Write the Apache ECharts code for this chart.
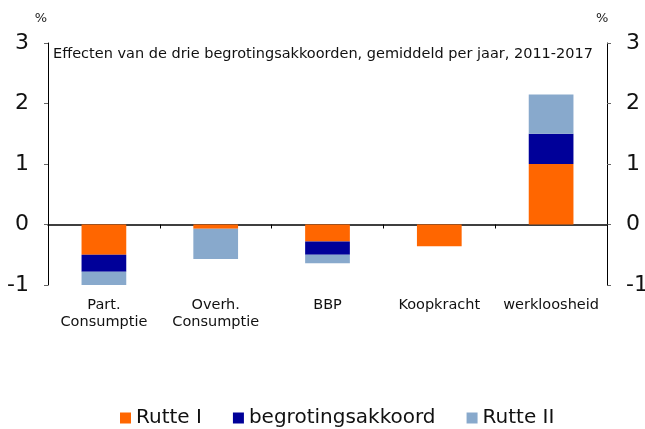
<!DOCTYPE html>
<html lang="nl">
<head>
    <meta charset="UTF-8">
    <title>Effecten begrotingsakkoorden</title>
    <script src="https://cdn.jsdelivr.net/npm/echarts@6/dist/echarts.min.js"></script>
    <style>
        html, body { margin: 0; padding: 0; background: #fff; }
        #chart { width: 645px; height: 429px; }
    </style>
</head>
<body>
    <div id="chart"></div>
    <script>
        // data
        var categories = ['Part.\nConsumptie', 'Overh.\nConsumptie', 'BBP', 'Koopkracht', 'werkloosheid'];
        var rutte1 = [-0.5, -0.07, -0.28, -0.36, 1.0];
        var akkoord = [-0.28, 0, -0.22, 0, 0.5];
        var rutte2 = [-0.22, -0.5, -0.14, 0, 0.65];
        var yTicks = { min: -1, max: 3, interval: 1 };

        var font = 'DejaVu Sans, Verdana, sans-serif';
        var myChart = echarts.init(document.getElementById('chart'));

        function yAxis(pos) {
            return {
                type: 'value',
                position: pos,
                min: yTicks.min,
                max: yTicks.max,
                interval: yTicks.interval,
                name: '%',
                nameLocation: 'end',
                nameGap: 18,
                nameTextStyle: {
                    color: '#222', fontFamily: font, fontSize: 13,
                    align: pos === 'left' ? 'right' : 'left',
                    padding: pos === 'left' ? [0, 1, 0, 0] : [0, 0, 0, -11]
                },
                axisLine: { show: true, lineStyle: { color: '#000', width: 1 } },
                axisTick: { show: true, length: 4, lineStyle: { color: '#666' } },
                axisLabel: { color: '#111', fontFamily: font, fontSize: 22, margin: 19 },
                splitLine: { show: false }
            };
        }

        function bar(name, data, color) {
            return {
                name: name,
                type: 'bar',
                stack: 'tot',
                data: data,
                barWidth: '40%',
                itemStyle: { color: color },
                emphasis: { disabled: true }
            };
        }

        myChart.setOption({
            animation: false,
            title: {
                text: 'Effecten van de drie begrotingsakkoorden, gemiddeld per jaar, 2011-2017',
                left: 53,
                top: 47,
                padding: 0,
                textStyle: { fontFamily: font, fontSize: 14.5, fontWeight: 'normal', color: '#111' }
            },
            grid: { left: 48, right: 38, top: 43, bottom: 144, outerBoundsMode: 'none' },
            legend: {
                top: 403,
                left: 115,
                itemWidth: 11,
                itemHeight: 11,
                itemGap: 31,
                icon: 'rect',
                textStyle: { fontFamily: font, fontSize: 20, color: '#111' },
                data: ['Rutte I', 'begrotingsakkoord', 'Rutte II']
            },
            xAxis: {
                type: 'category',
                data: categories,
                axisLine: { onZero: true, lineStyle: { color: '#000', width: 1.5 } },
                axisTick: { show: true, length: 4, alignWithLabel: false, lineStyle: { color: '#000' } },
                axisLabel: {
                    interval: 0, margin: 12, color: '#111', fontFamily: font,
                    fontSize: 14.5, lineHeight: 17, verticalAlign: 'top'
                },
                splitLine: { show: false }
            },
            yAxis: [yAxis('left'), yAxis('right')],
            series: [
                bar('Rutte I', rutte1, '#FF6600'),
                bar('begrotingsakkoord', akkoord, '#000099'),
                bar('Rutte II', rutte2, '#88A9CC')
            ]
        });
    </script>
</body>
</html>
